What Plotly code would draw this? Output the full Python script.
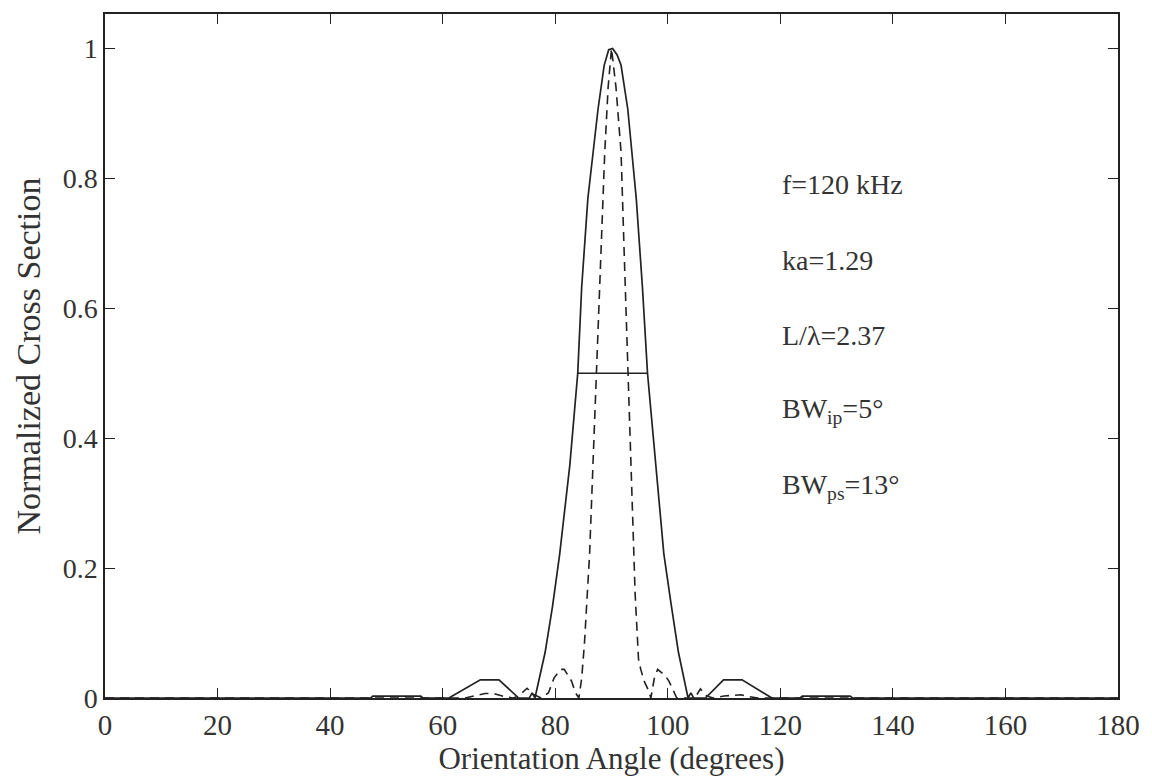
import plotly.graph_objects as go

# Physically-smooth (solid) backscatter pattern vs orientation angle
angle_solid = [0, 47.2, 47.6, 56.1, 56.5, 61.1, 66.7, 70.0, 73.5, 75.4, 75.9, 76.4,
               78.2, 79.5, 80.8, 82.6, 84.0, 84.7, 85.8, 87.6, 88.7, 89.5, 90.2,
               91.0, 91.7, 92.9, 94.4, 95.5, 96.4, 97.9, 99.3, 100.5, 101.9, 103.6,
               104.1, 104.6, 106.7, 109.9, 113.2, 118.5, 123.5, 123.9, 132.4, 132.8, 180]
sigma_solid = [0, 0, 0.003, 0.003, 0, 0, 0.028, 0.028, 0, 0, 0.008, 0,
               0.07, 0.14, 0.222, 0.359, 0.5, 0.632, 0.769, 0.906, 0.974, 0.998, 1.0,
               0.99, 0.974, 0.906, 0.769, 0.632, 0.5, 0.359, 0.222, 0.15, 0.07, 0,
               0.008, 0, 0, 0.028, 0.028, 0, 0, 0.003, 0.003, 0, 0]

# Dashed pattern (narrower main lobe)
angle_dashed = [0, 64, 66, 67.5, 69, 71, 72.5, 73.5, 75, 76, 77.5, 78.8, 79.8, 81.0,
                81.6, 82.9, 83.6, 84.2, 84.7, 85.2, 86.1, 86.7, 87.3, 88.0, 88.8, 89.4,
                90.0, 90.8, 91.7, 92.2, 92.9, 93.5, 94.2, 94.8, 95.2, 95.8, 96.5, 97.0,
                97.6, 98.2, 98.8, 99.5, 100.2, 101.0, 101.6, 104.8, 105.8, 106.7, 108,
                110, 112, 113, 114.5, 116, 180]
sigma_dashed = [0, 0, 0.004, 0.007, 0.007, 0.002, 0, 0.003, 0.015, 0.006, 0, 0.008, 0.031, 0.044,
                0.044, 0.026, 0.008, 0, 0.03, 0.085, 0.22, 0.36, 0.5, 0.68, 0.84, 0.94,
                1.0, 0.94, 0.84, 0.70, 0.5, 0.36, 0.16, 0.06, 0.044, 0.026, 0.013, 0,
                0.03, 0.044, 0.04, 0.035, 0.026, 0.01, 0, 0, 0.014, 0.004, 0,
                0.003, 0.005, 0.005, 0.002, 0, 0]

# Half-power marker across the solid main lobe
halfpower_x = [84.0, 96.4]
halfpower_y = [0.5, 0.5]

x_ticks = [0, 20, 40, 60, 80, 100, 120, 140, 160, 180]
y_ticks = [0, 0.2, 0.4, 0.6, 0.8, 1]
y_tick_text = ["0", "0.2", "0.4", "0.6", "0.8", "1"]

notes = ["f=120 kHz", "ka=1.29", "L/\u03bb=2.37",
         "BW<sub>ip</sub>=5\u00b0", "BW<sub>ps</sub>=13\u00b0"]
note_y = [0.79, 0.674, 0.558, 0.442, 0.326]
note_x = 120

ink = "#222222"
text_ink = "#333333"
font = "Liberation Serif, Times New Roman, serif"

fig = go.Figure()
fig.add_trace(go.Scatter(x=angle_solid, y=sigma_solid, mode="lines",
                         line=dict(color=ink, width=1.7), showlegend=False))
fig.add_trace(go.Scatter(x=angle_dashed, y=sigma_dashed, mode="lines",
                         line=dict(color=ink, width=1.6, dash="9px,6px"), showlegend=False))
fig.add_trace(go.Scatter(x=halfpower_x, y=halfpower_y, mode="lines",
                         line=dict(color=ink, width=1.6), showlegend=False))

for txt, yy in zip(notes, note_y):
    fig.add_annotation(x=note_x, y=yy, text=txt, showarrow=False,
                       xanchor="left", yanchor="middle",
                       font=dict(family=font, size=28, color=text_ink))

axis_common = dict(showgrid=False, zeroline=False, showline=True, linecolor=ink,
                   linewidth=1.5, mirror="ticks", ticks="inside", ticklen=10,
                   tickcolor=ink, tickwidth=1.2)

fig.update_xaxes(range=[0, 180], tickvals=x_ticks,
                 tickfont=dict(family=font, size=29, color=text_ink),
                 title=dict(text="Orientation Angle (degrees)", standoff=4,
                            font=dict(family=font, size=31, color=text_ink)),
                 **axis_common)
fig.update_yaxes(range=[0, 1.053], tickvals=y_ticks, ticktext=y_tick_text,
                 tickfont=dict(family=font, size=28, color=text_ink),
                 title=dict(text="Normalized Cross Section", standoff=12,
                            font=dict(family=font, size=34, color=text_ink)),
                 **axis_common)

fig.update_layout(width=1152, height=778, plot_bgcolor="white", paper_bgcolor="white",
                  margin=dict(l=105, r=29, t=13, b=76))

fig.write_html("out.html")
